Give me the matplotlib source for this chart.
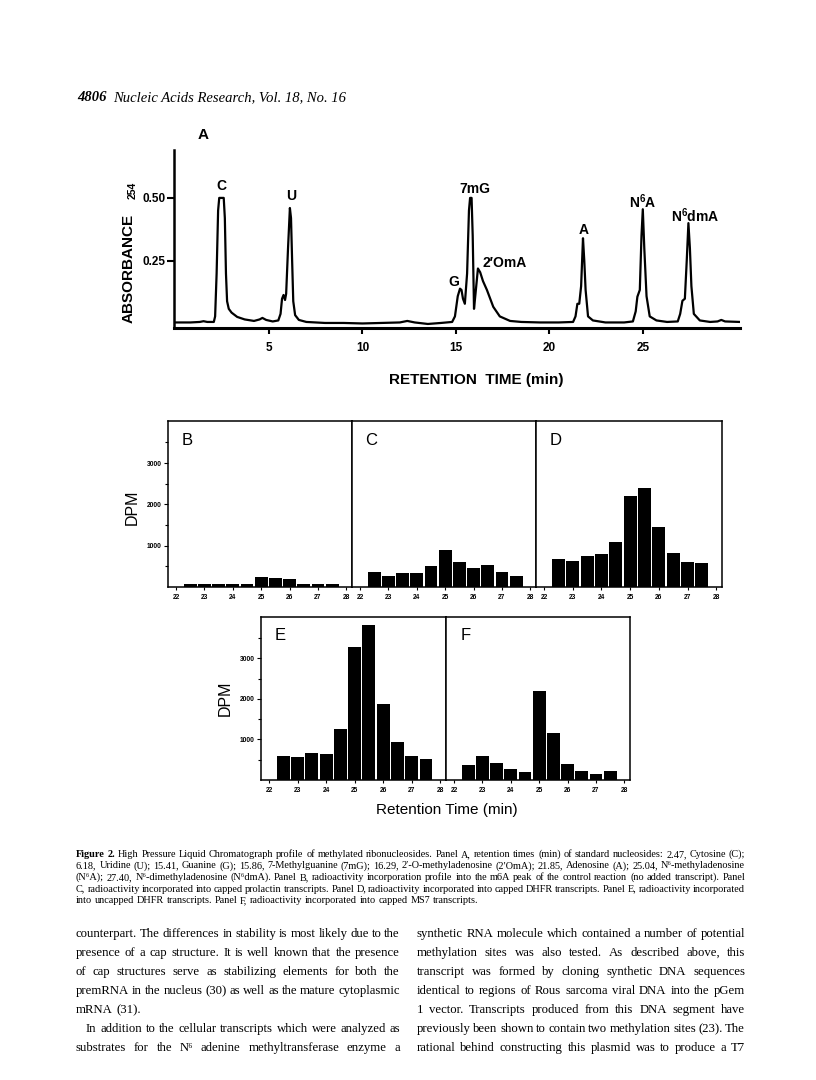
import matplotlib
matplotlib.use("Agg")
import matplotlib.pyplot as plt
from matplotlib.ticker import FixedLocator

# ---------------- data ----------------
# Panel A chromatogram: retention time (min) and absorbance at 254 nm
trace_time = [0.0, 0.8, 1.3, 1.5, 1.7, 2.05, 2.12, 2.2, 2.28, 2.34, 2.58, 2.64, 2.7, 2.76,
              2.85, 3.0, 3.3, 3.7, 4.2, 4.5, 4.65, 4.85, 5.2, 5.5, 5.62, 5.7, 5.78, 5.86,
              5.92, 6.02, 6.12, 6.18, 6.24, 6.3, 6.4, 6.6, 7.0, 8.0, 9.0, 10.0, 11.0,
              12.0, 12.4, 12.8, 13.5, 14.2, 14.8, 14.95, 15.1, 15.22, 15.3, 15.38, 15.48,
              15.6, 15.7, 15.76, 15.84, 15.9, 15.97, 16.05, 16.18, 16.3, 16.45, 16.66,
              17.0, 17.35, 17.9, 18.5, 19.5, 20.5, 21.27, 21.4, 21.5, 21.6, 21.7, 21.8,
              21.87, 21.94, 22.07, 22.33, 23.0, 24.0, 24.47, 24.62, 24.71, 24.84, 24.93,
              25.0, 25.08, 25.2, 25.37, 25.73, 26.3, 26.87, 27.0, 27.12, 27.25, 27.35,
              27.44, 27.52, 27.6, 27.73, 28.05, 28.6, 29.0, 29.2, 29.4, 30.2]
trace_abs = [0.006, 0.006, 0.008, 0.011, 0.008, 0.008, 0.03, 0.2, 0.45, 0.50, 0.50, 0.42,
             0.2, 0.09, 0.06, 0.045, 0.028, 0.018, 0.012, 0.018, 0.024, 0.016, 0.010,
             0.014, 0.04, 0.10, 0.115, 0.095, 0.12, 0.30, 0.46, 0.42, 0.25, 0.09, 0.035,
             0.016, 0.008, 0.004, 0.004, 0.002, 0.004, 0.006, 0.012, 0.006, 0.0, 0.004,
             0.008, 0.03, 0.11, 0.14, 0.135, 0.10, 0.08, 0.2, 0.45, 0.50, 0.50, 0.35, 0.06,
             0.12, 0.22, 0.205, 0.17, 0.135, 0.068, 0.03, 0.012, 0.008, 0.006, 0.006,
             0.008, 0.03, 0.08, 0.08, 0.15, 0.34, 0.25, 0.135, 0.03, 0.014, 0.006, 0.006,
             0.01, 0.05, 0.108, 0.135, 0.35, 0.455, 0.3, 0.11, 0.03, 0.014, 0.008, 0.01,
             0.04, 0.092, 0.1, 0.25, 0.40, 0.3, 0.15, 0.04, 0.014, 0.008, 0.01, 0.016,
             0.01, 0.008]

peak_names = ["C", "U", "G", "7mG", "2\u2032OmA", "A", r"N$^{6}$A", r"N$^{6}$dmA"]
peak_label_time = [2.46, 6.2, 14.87, 16.02, 17.6, 21.82, 25.0, 27.83]
peak_label_abs = [0.532, 0.492, 0.151, 0.52, 0.226, 0.357, 0.46, 0.405]

a_yticks = [0.25, 0.50]
a_ytick_labels = ["0.25", "0.50"]
a_xticks = [5, 10, 15, 20, 25]

# Panels B-F: radioactivity (DPM) per 0.5-min fraction
fraction_time = [22.5, 23.0, 23.5, 24.0, 24.5, 25.0, 25.5, 26.0, 26.5, 27.0, 27.5]
dpm_B = [80, 80, 80, 65, 80, 245, 230, 190, 80, 65, 65]
dpm_C = [370, 265, 350, 330, 510, 900, 600, 460, 540, 355, 270]
dpm_D = [680, 640, 740, 800, 1085, 2210, 2405, 1445, 825, 610, 570]
dpm_E = [585, 561, 667, 642, 1252, 3268, 3813, 1886, 927, 585, 520]
dpm_F = [365, 590, 420, 280, 195, 2185, 1150, 405, 225, 160, 225]
dpm_xticks = [22, 23, 24, 25, 26, 27, 28]
dpm_yticks = [1000, 2000, 3000]
dpm_minor = [500, 1500, 2500, 3500]

header_bold = "4806"
header_text = "Nucleic Acids Research, Vol. 18, No. 16"

caption_lines = [
    "Figure 2. High Pressure Liquid Chromatograph profile of methylated ribonucleosides. Panel A, retention times (min) of standard nucleosides: 2.47, Cytosine (C);",
    "6.18, Uridine (U); 15.41, Guanine (G); 15.86, 7-Methylguanine (7mG); 16.29, 2\u2032-O-methyladenosine (2\u2032OmA); 21.85, Adenosine (A); 25.04, N\u2076-methyladenosine",
    "(N\u2076A); 27.40, N\u2076-dimethyladenosine (N\u2076dmA). Panel B, radioactivity incorporation profile into the m6A peak of the control reaction (no added transcript). Panel",
    "C, radioactivity incorporated into capped prolactin transcripts. Panel D, radioactivity incorporated into capped DHFR transcripts. Panel E, radioactivity incorporated",
    "into uncapped DHFR transcripts. Panel F, radioactivity incorporated into capped MS7 transcripts.",
]
left_col = [
    "counterpart. The differences in stability is most likely due to the",
    "presence of a cap structure. It is well known that the presence",
    "of cap structures serve as stabilizing elements for both the",
    "premRNA in the nucleus (30) as well as the mature cytoplasmic",
    "mRNA (31).",
    "In addition to the cellular transcripts which were analyzed as",
    "substrates for the N\u2076 adenine methyltransferase enzyme a",
]
right_col = [
    "synthetic RNA molecule which contained a number of potential",
    "methylation sites was also tested. As described above, this",
    "transcript was formed by cloning synthetic DNA sequences",
    "identical to regions of Rous sarcoma viral DNA into the pGem",
    "1 vector. Transcripts produced from this DNA segment have",
    "previously been shown to contain two methylation sites (23). The",
    "rational behind constructing this plasmid was to produce a T7",
]

# ---------------- figure ----------------
W, H = 816, 1080
plt.rcParams['mathtext.fontset'] = 'custom'
plt.rcParams['mathtext.rm'] = 'Liberation Sans:bold'
plt.rcParams['mathtext.it'] = 'Liberation Sans:bold'
plt.rcParams['mathtext.bf'] = 'Liberation Sans:bold'
SANS = ['Liberation Sans', 'DejaVu Sans']
SERIF = ['Liberation Serif', 'DejaVu Serif']

fig = plt.figure(figsize=(W / 100, H / 100), dpi=100)
fig.patch.set_facecolor('white')


def fx(x):
    return x / W


def fy(y):
    return 1 - y / H


def box(x0, y0, x1, y1):
    return [fx(x0), fy(y1), (x1 - x0) / W, (y1 - y0) / H]


# ---- Panel A ----
axA = fig.add_axes(box(174, 150, 740, 328))
axA.plot(trace_time, trace_abs, color='black', lw=1.6, solid_joinstyle='round')
axA.set_xlim(-0.08, 30.2)
axA.set_ylim(-0.016, 0.69)
for s in ['top', 'right']:
    axA.spines[s].set_visible(False)
axA.spines['left'].set_linewidth(1.8)
axA.spines['bottom'].set_linewidth(2.2)
axA.set_yticks(a_yticks)
axA.set_yticklabels(a_ytick_labels)
axA.set_xticks(a_xticks)
axA.tick_params(axis='y', direction='out', length=5, width=1.5, pad=1, labelsize=8.5)
axA.tick_params(axis='x', direction='out', length=4, width=1.5, pad=6, labelsize=8.5)
for lab in axA.get_xticklabels() + axA.get_yticklabels():
    lab.set_fontweight('bold')
    lab.set_family(SANS)
for name, t, a in zip(peak_names, peak_label_time, peak_label_abs):
    axA.text(t, a, name, ha='center', va='baseline', fontsize=10, fontweight='bold',
             family=SANS)

fig.text(fx(203), fy(135), "A", ha='center', va='center', fontsize=11,
         fontweight='bold', family=SANS)
fig.text(fx(128.5), fy(268), "ABSORBANCE", rotation=90, ha='center', va='center',
         fontsize=11, fontweight='bold', family=SANS)
fig.text(fx(132.5), fy(190), "254", rotation=90, ha='center', va='center',
         fontsize=7.5, fontweight='bold', family=SANS)
fig.text(fx(476), fy(380), "RETENTION  TIME (min)", ha='center', va='center',
         fontsize=11, fontweight='bold', family=SANS)

# ---- Panels B-F ----
def dpm_panel(rect, values, letter, show_y):
    ax = fig.add_axes(rect)
    ax.bar(fraction_time, values, width=0.45, color='black', align='center')
    ax.set_xlim(21.72, 28.2)
    ax.set_ylim(0, 4020)
    for s in ax.spines.values():
        s.set_linewidth(1.1)
    ax.set_xticks(dpm_xticks)
    ax.tick_params(axis='x', direction='out', length=2, width=0.8, pad=3, labelsize=4.8)
    for lab in ax.get_xticklabels():
        lab.set_fontweight('bold')
        lab.set_family(SANS)
    if show_y:
        ax.yaxis.set_major_locator(FixedLocator(dpm_yticks))
        ax.yaxis.set_minor_locator(FixedLocator(dpm_minor))
        ax.set_yticklabels([str(v) for v in dpm_yticks])
        ax.tick_params(axis='y', which='major', direction='out', length=3, width=0.8,
                       pad=1.5, labelsize=4.8)
        ax.tick_params(axis='y', which='minor', direction='out', length=2, width=0.8)
        for lab in ax.get_yticklabels():
            lab.set_fontweight('bold')
            lab.set_family(SANS)
    else:
        ax.tick_params(axis='y', which='both', left=False, labelleft=False)
    ax.text(0.105, 0.885, letter, transform=ax.transAxes, ha='center', va='center',
            fontsize=12, family=SANS)
    return ax


dpm_panel(box(168, 421, 352, 587), dpm_B, "B", True)
dpm_panel(box(352, 421, 536, 587), dpm_C, "C", False)
dpm_panel(box(536, 421, 722, 587), dpm_D, "D", False)
dpm_panel(box(261, 617, 446, 780), dpm_E, "E", True)
dpm_panel(box(446, 617, 630, 780), dpm_F, "F", False)

fig.text(fx(132), fy(507), "DPM", rotation=90, ha='center', va='center', fontsize=11.5,
         family=SANS)
fig.text(fx(225), fy(698), "DPM", rotation=90, ha='center', va='center', fontsize=11.5,
         family=SANS)
fig.text(fx(447), fy(810), "Retention Time (min)", ha='center', va='center',
         fontsize=11, family=SANS)

# ---- Text blocks ----
renderer = fig.canvas.get_renderer()


def measure(s, fs, family, weight='normal', style='normal'):
    t = fig.text(0, 0, s, fontsize=fs, family=family, weight=weight, style=style)
    w = t.get_window_extent(renderer).width
    t.remove()
    return w


def natural_width(line, fs, family):
    return measure(line.replace(' ', '\u00a0'), fs, family)


def set_line(line, x0, x1, y, fs, family, justify=True, bold_words=0, indent=0):
    words = line.split(' ')
    objs, widths = [], []
    for i, w in enumerate(words):
        wt = 'bold' if i < bold_words else 'normal'
        t = fig.text(0, fy(y), w, fontsize=fs, family=family, weight=wt,
                     va='baseline', ha='left')
        objs.append(t)
        widths.append(t.get_window_extent(renderer).width)
    space = measure('a a', fs, family) - 2 * measure('a', fs, family)
    start = x0 + indent
    if justify and len(words) > 1:
        gap = (x1 - start - sum(widths)) / (len(words) - 1)
        gap = max(gap, 0.3 * space)
    else:
        gap = space
    x = start
    for t, wd in zip(objs, widths):
        t.set_x(fx(x))
        x += wd + gap


def fit_size(lines, width, family, ref=10.0):
    m = max(natural_width(l, ref, family) for l in lines)
    return ref * width / m * 0.985


# header
hx = 77
t = fig.text(fx(hx), fy(101), header_bold, fontsize=10.5, family=SERIF, weight='bold',
             style='italic', va='baseline')
bw = t.get_window_extent(renderer).width
fig.text(fx(hx + bw + 7), fy(101), header_text, fontsize=10.5, family=SERIF,
         style='italic', va='baseline')

# caption (slightly tighter word spacing, as in the condensed typeface of the page)
cap_x0, cap_x1 = 76, 745
cap_fs = fit_size(caption_lines[:4], cap_x1 - cap_x0, SERIF) * 1.03
cap_y = [857, 868.5, 880, 891.5, 903]
for i, (line, y) in enumerate(zip(caption_lines, cap_y)):
    set_line(line, cap_x0, cap_x1, y, cap_fs, SERIF, justify=(i < 4),
             bold_words=2 if i == 0 else 0)

# body text
body_y = [937, 956, 975, 994, 1013, 1032, 1051]
lx0, lx1, rx0, rx1 = 76, 400, 417, 745
body_fs = min(fit_size(left_col, lx1 - lx0, SERIF),
              fit_size(right_col, rx1 - rx0, SERIF)) * 1.04
for i, (line, y) in enumerate(zip(left_col, body_y)):
    set_line(line, lx0, lx1, y, body_fs, SERIF, justify=(i != 4),
             indent=10 if i == 5 else 0)
for line, y in zip(right_col, body_y):
    set_line(line, rx0, rx1, y, body_fs, SERIF, justify=True)

fig.savefig("out.png", dpi=100, facecolor='white')
